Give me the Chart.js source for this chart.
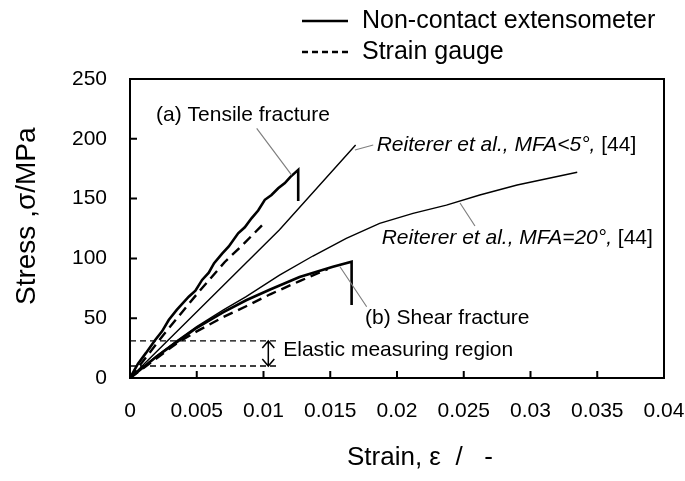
<!DOCTYPE html>
<html>
<head>
<meta charset="utf-8">
<script src="https://cdn.jsdelivr.net/npm/chart.js@4.4.1/dist/chart.umd.min.js"></script>
<style>
  html, body { margin: 0; padding: 0; background: #fff; }
</style>
</head>
<body>
<canvas id="stressChart" width="685" height="481"></canvas>
<script>
// Stress-strain curves: tensile / shear fracture specimens vs. literature

const tensileStrain = [0, 0.0006, 0.0012, 0.0019, 0.0024, 0.0029, 0.0035, 0.0044, 0.0049, 0.0054, 0.0059, 0.0063, 0.0069, 0.0074, 0.0081, 0.0086, 0.0091, 0.0096, 0.0101, 0.0106, 0.0111, 0.0116, 0.0120, 0.0126, 0.0126];
const tensileStress = [0, 12, 21, 32, 39, 48.5, 57, 68, 73, 82, 88, 96, 104, 110, 121, 126, 133.5, 140, 149, 153, 158.6, 163, 168, 174, 148];

const tensileGaugeStrain = [0, 0.0025, 0.005, 0.0071, 0.0085, 0.0101];
const tensileGaugeStress = [0, 36, 70, 97, 112, 130];

const shearStrain = [0, 0.002, 0.0035, 0.005, 0.007, 0.0087, 0.0105, 0.0127, 0.0152, 0.0166, 0.0166];
const shearStress = [0, 18, 30, 42, 55, 65, 74, 84.5, 93, 97.2, 61];

const shearGaugeStrain = [0, 0.0035, 0.005, 0.007, 0.0087, 0.0105, 0.0127, 0.0148];
const shearGaugeStress = [0, 29, 39, 51, 60, 70, 81, 91];

const mfa5Strain = [0, 0.0112, 0.0131, 0.0169];
const mfa5Stress = [0, 124, 147.5, 194.8];

const mfa20Strain = [0, 0.002, 0.0035, 0.005, 0.007, 0.0087, 0.0112, 0.0137, 0.0162, 0.0187, 0.0212, 0.0237, 0.0262, 0.029, 0.0335];
const mfa20Stress = [0, 18.5, 31, 43, 57, 68, 86, 102, 116.8, 129.3, 137.7, 144.6, 153, 161.4, 172];

// elastic measuring region (stress bounds, MPa) and its strain extent
const elasticBounds = [10, 31];
const elasticStrainEnd = 0.011;

const xTickLabels = ['0', '0.005', '0.01', '0.015', '0.02', '0.025', '0.03', '0.035', '0.04'];
const yTickLabels = ['0', '50', '100', '150', '200', '250'];

const FONT = '"Liberation Sans", Arial, sans-serif';

function toPoints(xs, ys) {
    return xs.map((x, i) => ({ x: x, y: ys[i] }));
}

function curve(xs, ys, width, dash) {
    return {
        data: toPoints(xs, ys),
        showLine: true,
        borderColor: '#000',
        borderWidth: width,
        borderDash: dash || [],
        pointRadius: 0,
        tension: 0,
        fill: false
    };
}

const datasets = [
    curve(mfa5Strain, mfa5Stress, 1.4),
    curve(mfa20Strain, mfa20Stress, 1.4),
    curve(tensileGaugeStrain, tensileGaugeStress, 2.4, [10, 6]),
    curve(shearGaugeStrain, shearGaugeStress, 2.4, [10, 6]),
    curve(tensileStrain, tensileStress, 2.6),
    curve(shearStrain, shearStress, 2.6)
];
elasticBounds.forEach(s => {
    datasets.push(curve([0, elasticStrainEnd], [s, s], 1.4, [6, 4]));
});

// leader lines, labels, frame, inner ticks, legend and axis titles
const decorations = {
    id: 'decorations',
    afterDatasetsDraw(chart) {
        const ctx = chart.ctx;
        const area = chart.chartArea;
        const xs = chart.scales.x;
        const ys = chart.scales.y;
        const P = (x, y) => [xs.getPixelForValue(x), ys.getPixelForValue(y)];

        ctx.save();

        // frame
        ctx.strokeStyle = '#000';
        ctx.lineWidth = 2;
        ctx.strokeRect(area.left, area.top, area.right - area.left, area.bottom - area.top);

        // inward tick marks
        ctx.beginPath();
        for (let v = 0.005; v < 0.04; v += 0.005) {
            const x = xs.getPixelForValue(v);
            ctx.moveTo(x, area.bottom);
            ctx.lineTo(x, area.bottom - 7);
        }
        for (let v = 50; v < 250; v += 50) {
            const y = ys.getPixelForValue(v);
            ctx.moveTo(area.left, y);
            ctx.lineTo(area.left + 7, y);
        }
        ctx.stroke();

        // leader lines
        const leaders = [
            [0.00949, 208.8, 0.01211, 169.7],
            [0.01685, 190.6, 0.01822, 194.8],
            [0.02472, 146.3, 0.02584, 127.1],
            [0.01573, 93, 0.01773, 59.6]
        ];
        ctx.strokeStyle = '#808080';
        ctx.lineWidth = 1.2;
        ctx.beginPath();
        leaders.forEach(l => {
            const a = P(l[0], l[1]);
            const b = P(l[2], l[3]);
            ctx.moveTo(a[0], a[1]);
            ctx.lineTo(b[0], b[1]);
        });
        ctx.stroke();

        // double arrow across the elastic region
        const ax = xs.getPixelForValue(0.01036);
        const top = ys.getPixelForValue(elasticBounds[1]);
        const bot = ys.getPixelForValue(elasticBounds[0]);
        ctx.strokeStyle = '#000';
        ctx.lineWidth = 1.5;
        ctx.beginPath();
        ctx.moveTo(ax, top);
        ctx.lineTo(ax, bot);
        ctx.moveTo(ax - 6, top + 7);
        ctx.lineTo(ax, top);
        ctx.lineTo(ax + 6, top + 7);
        ctx.moveTo(ax - 6, bot - 7);
        ctx.lineTo(ax, bot);
        ctx.lineTo(ax + 6, bot - 7);
        ctx.stroke();

        // labels
        ctx.fillStyle = '#000';
        ctx.textAlign = 'left';
        ctx.textBaseline = 'middle';
        ctx.font = '21px ' + FONT;
        let p = P(0.00195, 219.9);
        ctx.fillText('(a) Tensile fracture', p[0], p[1]);
        p = P(0.0176, 50.2);
        ctx.fillText('(b) Shear fracture', p[0], p[1]);
        p = P(0.01148, 23.4);
        ctx.fillText('Elastic measuring region', p[0], p[1]);

        const refLabel = (text, ref, x, y) => {
            const q = P(x, y);
            ctx.font = 'italic 21px ' + FONT;
            ctx.fillText(text, q[0], q[1]);
            const w = ctx.measureText(text).width;
            ctx.font = '21px ' + FONT;
            ctx.fillText(ref, q[0] + w, q[1]);
        };
        refLabel('Reiterer et al., MFA<5°, ', '[44]', 0.01848, 194.8);
        refLabel('Reiterer et al., MFA=20°, ', '[44]', 0.01885, 117);

        ctx.restore();
    },
    afterDraw(chart) {
        const ctx = chart.ctx;
        ctx.save();
        ctx.fillStyle = '#000';
        ctx.strokeStyle = '#000';
        ctx.textBaseline = 'middle';
        ctx.textAlign = 'left';

        // legend
        ctx.lineWidth = 2.4;
        ctx.beginPath();
        ctx.moveTo(302, 21);
        ctx.lineTo(348, 21);
        ctx.stroke();
        ctx.setLineDash([6, 4]);
        ctx.beginPath();
        ctx.moveTo(302, 52);
        ctx.lineTo(348, 52);
        ctx.stroke();
        ctx.setLineDash([]);
        ctx.font = '25px ' + FONT;
        ctx.fillText('Non-contact extensometer', 362, 21);
        ctx.fillText('Strain gauge', 362, 52);

        // axis titles
        ctx.font = '26px ' + FONT;
        ctx.fillText('Strain, ε  /   -', 347, 458);
        ctx.translate(27, 305);
        ctx.rotate(-Math.PI / 2);
        ctx.font = '28px ' + FONT;
        ctx.fillText('Stress ,σ/MPa', 0, 0);
        ctx.restore();
    }
};

new Chart(document.getElementById('stressChart'), {
    type: 'scatter',
    data: { datasets: datasets },
    options: {
        responsive: false,
        animation: false,
        layout: { padding: { top: 79, right: 21, left: 0, bottom: 0 } },
        plugins: {
            legend: { display: false },
            tooltip: { enabled: false },
            title: { display: false }
        },
        scales: {
            x: {
                type: 'linear',
                min: 0,
                max: 0.04,
                afterFit(scale) {
                    scale.height = 103;
                    scale.paddingLeft = 0;
                    scale.paddingRight = 0;
                },
                afterBuildTicks(scale) {
                    scale.ticks = xTickLabels.map(t => ({ value: parseFloat(t) }));
                },
                ticks: {
                    color: '#000',
                    padding: 21,
                    maxRotation: 0,
                    autoSkip: false,
                    font: { family: FONT, size: 21 },
                    callback: (v, i) => xTickLabels[i]
                },
                grid: { display: false, drawTicks: false },
                border: { display: false }
            },
            y: {
                type: 'linear',
                min: 0,
                max: 250,
                afterFit(scale) { scale.width = 130; },
                afterBuildTicks(scale) {
                    scale.ticks = yTickLabels.map(t => ({ value: parseFloat(t) }));
                },
                ticks: {
                    color: '#000',
                    padding: 23,
                    autoSkip: false,
                    font: { family: FONT, size: 21 },
                    callback: (v, i) => yTickLabels[i]
                },
                grid: { display: false, drawTicks: false },
                border: { display: false }
            }
        }
    },
    plugins: [decorations]
});
</script>
</body>
</html>
